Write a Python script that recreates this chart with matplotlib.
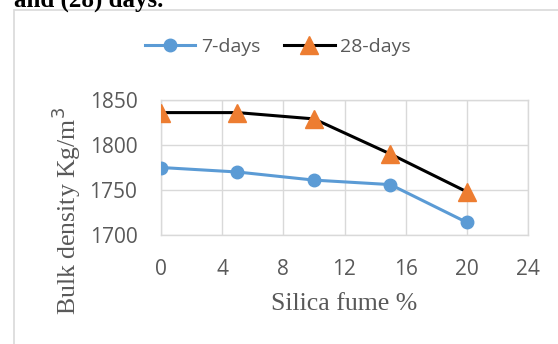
import matplotlib
matplotlib.use("Agg")
from matplotlib import pyplot as plt
from matplotlib.patches import Rectangle

# Data
silica = [0, 5, 10, 15, 20]
days7 = [1775, 1770, 1761, 1756, 1714]
days28 = [1836, 1836, 1829, 1790, 1748]
xticks = [0, 4, 8, 12, 16, 20, 24]
yticks = [1700, 1750, 1800, 1850]

grey_txt = '#595959'
grid_c = '#D9D9D9'

fig = plt.figure(figsize=(5.58, 3.44), dpi=100)
ax = fig.add_axes([161/558, 1 - 235/344, (528-161)/558, (235-100)/344])

ax.plot(silica, days7, color='#5B9BD5', linewidth=2.2, marker='o',
        markersize=9, label='7-days', zorder=3)
ax.plot(silica, days28, color='black', linewidth=2.2, marker='^',
        markersize=13, markerfacecolor='#ED7D31', markeredgecolor='#ED7D31',
        label='28-days', zorder=3)

ax.set_xlim(0, 24)
ax.set_ylim(1700, 1850)
ax.set_xticks(xticks)
ax.set_yticks(yticks)
ax.grid(color=grid_c, linewidth=1)
ax.set_axisbelow(True)
for s in ax.spines.values():
    s.set_color(grid_c)
    s.set_linewidth(1)
ax.tick_params(length=0, labelsize=15, labelcolor=grey_txt)
ax.tick_params(axis='y', pad=17)
ax.tick_params(axis='x', pad=17)
for lab in ax.get_xticklabels() + ax.get_yticklabels():
    lab.set_fontfamily('Open Sans')

ax.set_xlabel('Silica fume %', family='Liberation Serif', fontsize=18.5,
              color=grey_txt, labelpad=10)
# y label sits below the axes centre in the original
fig.text(66/558, 1 - 211/344, 'Bulk density Kg/m$^3$', family='Liberation Serif',
         fontsize=18.5, color=grey_txt, rotation=90, ha='center', va='center')

leg = fig.legend(loc='center', bbox_to_anchor=(278/558, 1 - 47/344), ncol=2,
                 frameon=False, handlelength=2.6, columnspacing=1.2,
                 handletextpad=0.3, prop={'family': 'Open Sans', 'size': 14})
for t in leg.get_texts():
    t.set_color(grey_txt)

# outer chart frame (cut off at right and bottom)
fig.add_artist(Rectangle((14/558, -0.1), 1.2, 1 - 10/344 + 0.1,
                         transform=fig.transFigure, fill=False,
                         edgecolor=grid_c, linewidth=1.2, clip_on=False))

# caption fragment cut off at the top
fig.text(14/558, 1 - 7/344, 'and (28) days.', family='Liberation Serif',
         fontweight='bold', fontsize=18, va='baseline', ha='left')

fig.savefig('out.png', dpi=100)
